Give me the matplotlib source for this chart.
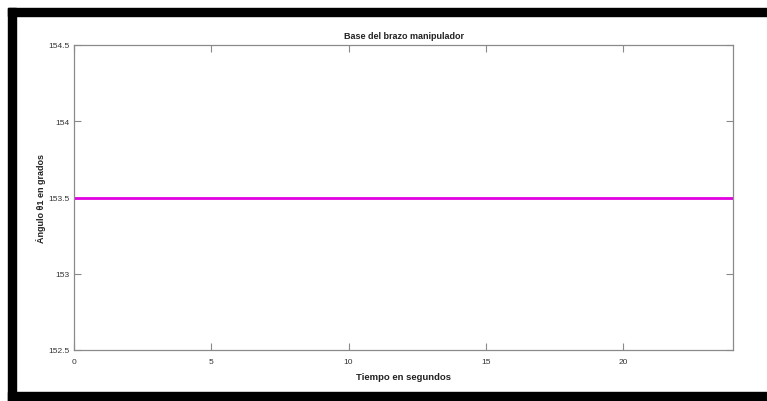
import matplotlib
matplotlib.use("Agg")
import matplotlib.pyplot as plt
from matplotlib.patches import Rectangle

# data: joint angle held constant over the run
tiempo = [0, 24]
angulo = [153.5, 153.5]
xticks = [0, 5, 10, 15, 20]
yticks = [152.5, 153, 153.5, 154, 154.5]
ytick_labels = ["152.5", "153", "153.5", "154", "154.5"]

plt.rcParams['font.family'] = ['Liberation Sans', 'DejaVu Sans']

W, H = 767, 402
fig = plt.figure(figsize=(W / 100, H / 100), dpi=100)
fig.patch.set_facecolor("white")

# axes box in pixel coords (left, top, right, bottom)
l, t, r, b = 74, 46, 733, 351
ax = fig.add_axes([l / W, 1 - b / H, (r - l) / W, (b - t) / H])

ax.plot(tiempo, angulo, color="#e000e0", lw=2.0, solid_capstyle="butt")

ax.set_xlim(0, 24)
ax.set_ylim(152.5, 154.5)
ax.set_xticks(xticks)
ax.set_xticklabels([str(v) for v in xticks])
ax.set_yticks(yticks)
ax.set_yticklabels(ytick_labels)

grey = "#8a8a8a"
for s in ax.spines.values():
    s.set_color(grey)
    s.set_linewidth(0.9)
ax.tick_params(direction="in", length=5, width=0.8, color=grey,
               labelsize=6, labelcolor="#333333", top=True, right=True, pad=3)
ax.tick_params(axis="x", pad=5.5)

ax.set_title("Base del brazo manipulador", fontsize=6.5, fontweight="bold",
             color="#222222", pad=5)
ax.set_xlabel("Tiempo en segundos", fontsize=6.8, fontweight="bold",
              color="#222222", labelpad=5)
ax.set_ylabel("Ángulo θ1 en grados", fontsize=6.5, fontweight="bold",
              color="#222222", labelpad=2)

# black frame around the screenshot (top, left and bottom bands)
def band(x0, y0, x1, y1):
    fig.patches.append(Rectangle((x0 / W, 1 - y1 / H), (x1 - x0) / W, (y1 - y0) / H,
                                 transform=fig.transFigure, color="black", zorder=10))

band(8, 9, W, 17)
band(8, 9, 16, H)
band(8, 393, W, H)

fig.savefig("out.png", dpi=100)
